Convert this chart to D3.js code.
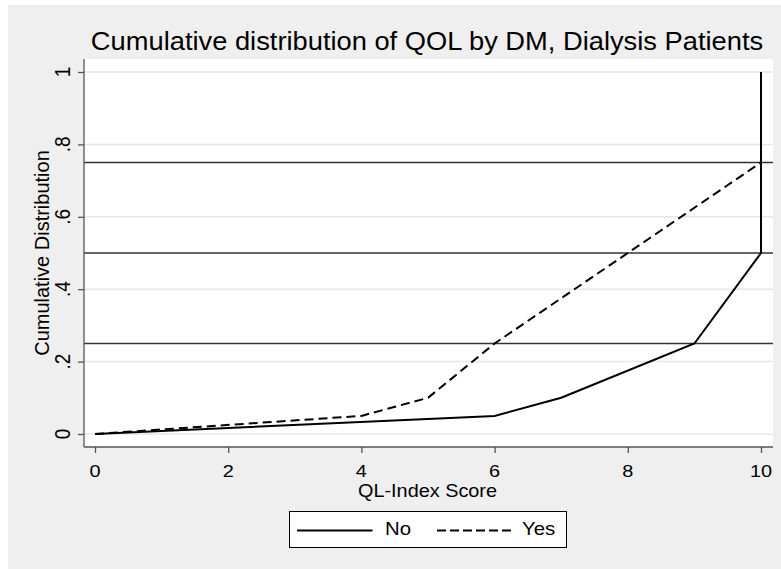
<!DOCTYPE html>
<html>
<head>
<meta charset="utf-8">
<script src="https://cdn.jsdelivr.net/npm/d3@7"></script>
<style>
  body { margin: 0; background: #ffffff; }
  text { font-family: "Liberation Sans", Arial, sans-serif; fill: #000; }
</style>
</head>
<body>
<script>
// data
const noX = [0, 6, 7, 9, 10, 10];
const noY = [0, 0.05, 0.1, 0.25, 0.5, 1];
const yesX = [0, 4, 5, 6, 10, 10];
const yesY = [0, 0.05, 0.1, 0.25, 0.75, 1];
const refLines = [0.25, 0.5, 0.75];
const xTicks = [0, 2, 4, 6, 8, 10];
const yTicks = [0, 0.2, 0.4, 0.6, 0.8, 1];
const yTickLabels = ["0", ".2", ".4", ".6", ".8", "1"];
const seriesNames = ["No", "Yes"];

const width = 781, height = 569;
const svg = d3.select('body').append('svg')
    .attr('width', width)
    .attr('height', height);

// text is a bit wider than plain Arial in the original, so stretch it sideways
function label(parent, str, tx, ty, size, sx, rotate, anchor) {
    return parent.append('text')
        .attr('transform', 'translate(' + tx + ',' + ty + ') scale(' + sx + ',1)' + (rotate ? ' rotate(-90)' : ''))
        .style('font-size', size + 'px')
        .style('text-anchor', anchor || 'middle')
        .text(str);
}

// graph region (gray) with thin white border top/left
svg.append('rect')
    .attr('x', 8).attr('y', 5)
    .attr('width', width - 8).attr('height', height - 5)
    .style('fill', '#efefef');

// plot region
const plot = { left: 84, right: 773, top: 59, bottom: 447 };
svg.append('rect')
    .attr('x', plot.left).attr('y', plot.top)
    .attr('width', plot.right - plot.left)
    .attr('height', plot.bottom - plot.top)
    .style('fill', '#ffffff');

const x = d3.scaleLinear().domain([0, 10]).range([95, 761]);
const y = d3.scaleLinear().domain([0, 1]).range([434, 72]);

// grid lines
svg.append('g').selectAll('line')
    .data(yTicks)
    .join('line')
    .attr('x1', plot.left).attr('x2', plot.right)
    .attr('y1', d => y(d)).attr('y2', d => y(d))
    .style('stroke', '#e6e6e6')
    .style('stroke-width', 1.5);

// reference lines at quartiles
svg.append('g').selectAll('line')
    .data(refLines)
    .join('line')
    .attr('x1', plot.left).attr('x2', plot.right)
    .attr('y1', d => y(d)).attr('y2', d => y(d))
    .style('stroke', '#333')
    .style('stroke-width', 1.5);

// axes (labels drawn separately so they can be stretched)
const yAxis = svg.append('g')
    .attr('transform', 'translate(' + plot.left + ',0)')
    .call(d3.axisLeft(y).tickValues(yTicks).tickSize(6).tickFormat(''));
yAxis.select('.domain').attr('d', 'M0,' + plot.top + 'V' + plot.bottom);

const xAxis = svg.append('g')
    .attr('transform', 'translate(0,' + plot.bottom + ')')
    .call(d3.axisBottom(x).tickValues(xTicks).tickSize(6).tickFormat(''));
xAxis.select('.domain').attr('d', 'M' + plot.left + ',0H' + plot.right);

svg.selectAll('.domain, .tick line')
    .style('stroke', '#555')
    .style('stroke-width', 1.3);

const tickLabels = svg.append('g');
yTicks.forEach((d, i) => label(tickLabels, yTickLabels[i], 69.5, y(d), 19, 1.17, true));
xTicks.forEach(d => label(tickLabels, d, x(d), 476.5, 17, 1.17, false));

// series lines
const line = d3.line().x(d => x(d[0])).y(d => y(d[1]));
const noData = noX.map((v, i) => [v, noY[i]]);
const yesData = yesX.map((v, i) => [v, yesY[i]]);

svg.append('path')
    .datum(yesData)
    .attr('d', line)
    .style('fill', 'none')
    .style('stroke', '#000')
    .style('stroke-width', 2)
    .style('stroke-dasharray', '9,5');

svg.append('path')
    .datum(noData)
    .attr('d', line)
    .style('fill', 'none')
    .style('stroke', '#000')
    .style('stroke-width', 2);

// titles
label(svg, 'Cumulative distribution of QOL by DM, Dialysis Patients', 427, 50, 26.5, 1.03, false);
label(svg, 'Cumulative Distribution', 48.5, y(0.5), 20, 1.05, true);
label(svg, 'QL-Index Score', 427.5, 496.5, 18.8, 1.056, false);

// legend
const legend = svg.append('g');
legend.append('rect')
    .attr('x', 289.5).attr('y', 511.5)
    .attr('width', 277).attr('height', 36)
    .style('fill', '#fff')
    .style('stroke', '#000')
    .style('stroke-width', 1);

const legendItems = [
    { name: seriesNames[0], x: 297, tx: 385, dash: null },
    { name: seriesNames[1], x: 437, tx: 522, dash: '9,4' }
];
legendItems.forEach(item => {
    legend.append('line')
        .attr('x1', item.x).attr('x2', item.x + 75.5)
        .attr('y1', 530.5).attr('y2', 530.5)
        .style('stroke', '#000')
        .style('stroke-width', 2)
        .style('stroke-dasharray', item.dash);
    label(legend, item.name, item.tx, 534.5, 17.7, 1.15, false, 'start');
});
</script>
</body>
</html>
